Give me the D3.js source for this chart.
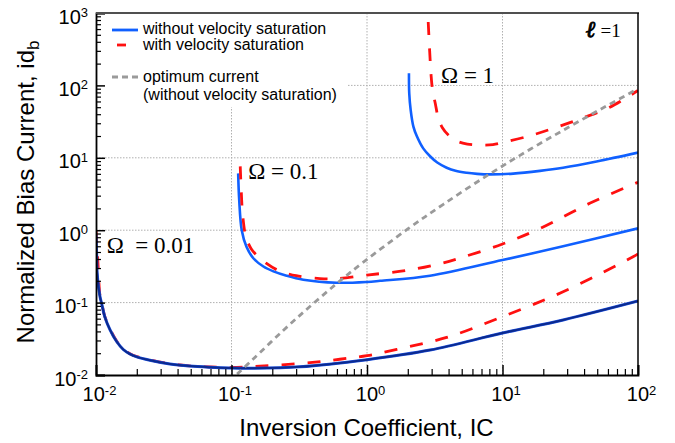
<!DOCTYPE html>
<html>
<head>
<meta charset="utf-8">
<script src="https://cdn.jsdelivr.net/npm/d3@7"></script>
<style>
  body { margin: 0; background: #fff; }
  svg { display: block; font-family: Arial, "Liberation Sans", sans-serif; }
</style>
</head>
<body>
<div id="chart"></div>
<script>
// [IC, idb] pairs
const noSat001 = [[0.01, 0.86], [0.0101, 0.5], [0.0102, 0.256], [0.0107, 0.121], [0.011, 0.098], [0.0116, 0.064],
  [0.0127, 0.042], [0.0142, 0.029], [0.0159, 0.0225], [0.0178, 0.0195], [0.02, 0.0178], [0.025, 0.016],
  [0.0351, 0.0142], [0.049, 0.0133], [0.0694, 0.0128], [0.097, 0.0125], [0.137, 0.0124], [0.32, 0.013],
  [1.0, 0.0163], [2.92, 0.0221], [10, 0.038], [28, 0.0575], [100, 0.105]];
const withSat001 = [[0.01, 1.0], [0.0103, 0.4], [0.0107, 0.125], [0.011, 0.1], [0.0116, 0.065], [0.0127, 0.043],
  [0.0142, 0.0295], [0.0159, 0.0228], [0.0178, 0.0197], [0.02, 0.018], [0.025, 0.0162], [0.035, 0.0143],
  [0.049, 0.0134], [0.07, 0.0129], [0.1, 0.0127], [0.137, 0.013], [0.379, 0.0148], [0.63, 0.0165],
  [1.0, 0.0185], [1.66, 0.0226], [3.87, 0.033], [10, 0.064], [28, 0.141], [92, 0.43], [100, 0.47]];
const noSat01 = [[0.112, 6.1], [0.114, 2.6], [0.119, 1.0], [0.129, 0.59], [0.145, 0.41], [0.172, 0.315],
  [0.204, 0.27], [0.255, 0.235], [0.339, 0.207], [0.597, 0.188], [1.0, 0.193], [1.25, 0.2],
  [2.92, 0.235], [10, 0.387], [28, 0.6], [100, 1.06]];
const withSat01 = [[0.116, 7.6], [0.118, 3.5], [0.121, 1.6], [0.128, 0.8], [0.14, 0.55], [0.152, 0.46],
  [0.18, 0.35], [0.22, 0.28], [0.3, 0.235], [0.45, 0.215], [0.6, 0.215], [1.0, 0.24], [2.0, 0.28],
  [3.46, 0.345], [5, 0.42], [10, 0.644], [19, 1.06], [44, 2.35], [100, 4.6]];
const noSat1 = [[2.04, 147], [2.05, 78], [2.1, 46], [2.2, 27], [2.33, 20], [2.6, 13.5], [2.92, 10.5],
  [3.3, 8.6], [3.87, 7.3], [4.5, 6.6], [5.45, 6.2], [6.5, 6.0], [8.1, 5.9], [12, 6.05], [18.9, 6.6],
  [28, 7.3], [49.5, 8.9], [100, 11.8]];
const withSat1 = [[2.83, 750], [2.9, 300], [2.97, 140], [3.05, 85], [3.2, 55], [3.35, 36], [3.6, 26],
  [4.0, 20.5], [4.6, 17], [5.5, 15.5], [7, 15], [8.5, 15.2], [10, 16.2], [16, 20.2], [25, 26.4],
  [40, 36], [62, 50], [100, 85]];
const optimum = [[0.11, 0.0103], [0.144, 0.0165], [0.241, 0.0413], [0.379, 0.0883], [0.61, 0.189],
  [0.94, 0.362], [2, 1.04], [3.66, 2.28], [8.1, 6.03], [16, 13.1], [30, 25.8], [55, 48.7], [100, 90]];

const xMajor = [1e-2, 1e-1, 1e0, 1e1, 1e2];
const yMajor = [1e-2, 1e-1, 1e0, 1e1, 1e2, 1e3];
const legendLabels = ["without velocity saturation", "with velocity saturation",
  "optimum current", "(without velocity saturation)"];
const omegaLabels = [
  { text: "Ω\u00a0\u00a0=\u00a00.01", ic: 0.012, id: 0.48 },
  { text: "Ω\u00a0=\u00a00.1", ic: 0.133, id: 5.1 },
  { text: "Ω\u00a0=\u00a01", ic: 3.52, id: 108 }
];

const width = 675, height = 443;
const box = { left: 96, right: 638, top: 13, bottom: 375 };

const svg = d3.select("#chart").append("svg")
  .attr("width", width).attr("height", height);

const x = d3.scaleLog().domain([1e-2, 1e2]).range([box.left, box.right]);
const y = d3.scaleLog().domain([1e-2, 1e3]).range([box.bottom, box.top]);

const minor = (majors) => {
  const out = [];
  for (let i = 0; i < majors.length - 1; i++)
    for (let k = 2; k <= 9; k++) out.push(majors[i] * k);
  return out;
};

// grid
svg.append("g").selectAll("line")
  .data(xMajor.slice(1, -1))
  .join("line")
  .attr("x1", d => x(d)).attr("x2", d => x(d))
  .attr("y1", box.top).attr("y2", box.bottom)
  .attr("stroke", "#b0b0b0").attr("stroke-dasharray", "1.5,1.5");
svg.append("g").selectAll("line")
  .data(yMajor.slice(1, -1))
  .join("line")
  .attr("x1", box.left).attr("x2", box.right)
  .attr("y1", d => y(d)).attr("y2", d => y(d))
  .attr("stroke", "#b0b0b0").attr("stroke-dasharray", "1.5,1.5");

// legend background hides the grid behind it
svg.append("rect")
  .attr("x", box.left + 1).attr("y", box.top + 1).attr("width", 250).attr("height", 93)
  .attr("fill", "#fff");

// curves
svg.append("clipPath").attr("id", "plot")
  .append("rect").attr("x", box.left).attr("y", box.top)
  .attr("width", box.right - box.left).attr("height", box.bottom - box.top);

const line = d3.line()
  .x(d => x(d[0]))
  .y(d => y(d[1]))
  .curve(d3.curveCatmullRom.alpha(0.5));

const curves = svg.append("g").attr("clip-path", "url(#plot)").attr("fill", "none");

const series = [
  { data: noSat01, color: "#1060ff", dash: null, w: 2.6 },
  { data: noSat1, color: "#1060ff", dash: null, w: 2.6 },
  { data: withSat001, color: "#ff1010", dash: "13,13", w: 2.8 },
  { data: withSat01, color: "#ff1010", dash: "13,13", w: 2.8 },
  { data: withSat1, color: "#ff1010", dash: "13,13", w: 2.8 },
  { data: noSat001, color: "#1f52e0", dash: null, w: 3 },
  { data: noSat001, color: "#0b2a8e", dash: null, w: 2 },
  { data: optimum, color: "#9a9a9a", dash: "6,4.5", w: 2.8 }
];

curves.selectAll("path")
  .data(series)
  .join("path")
  .attr("d", d => line(d.data))
  .attr("stroke", d => d.color)
  .attr("stroke-width", d => d.w)
  .attr("stroke-dasharray", d => d.dash);

// axes
const powLabel = (sel) => sel.each(function (d) {
  const t = d3.select(this).text(null);
  t.append("tspan").text("10");
  t.append("tspan").attr("dy", "-0.5em").attr("font-size", 13).text(Math.round(Math.log10(d)));
});

const xAxisMinor = d3.axisBottom(x).tickValues(minor(xMajor)).tickSize(-6).tickFormat("");
const xAxisMajor = d3.axisBottom(x).tickValues(xMajor).tickSize(-10).tickPadding(12);
const yAxisMinor = d3.axisLeft(y).tickValues(minor(yMajor)).tickSize(-5).tickFormat("");
const yAxisMajor = d3.axisLeft(y).tickValues(yMajor).tickSize(-9).tickPadding(8);

svg.append("g").attr("transform", `translate(0,${box.bottom})`).call(xAxisMinor)
  .call(g => g.select(".domain").remove())
  .selectAll("line").attr("stroke-width", 1.2);
const gx = svg.append("g").attr("transform", `translate(0,${box.bottom})`).call(xAxisMajor);
gx.select(".domain").attr("stroke-width", 1.8);
gx.selectAll("line").attr("stroke-width", 1.5);
gx.selectAll(".tick text").attr("font-size", 20).attr("dy", "0.7em").attr("dx", 3)
  .attr("font-family", "Arial, 'Liberation Sans', sans-serif").call(powLabel);

svg.append("g").attr("transform", `translate(${box.left},0)`).call(yAxisMinor)
  .call(g => g.select(".domain").remove())
  .selectAll("line").attr("stroke-width", 1.2);
const gy = svg.append("g").attr("transform", `translate(${box.left},0)`).call(yAxisMajor);
gy.select(".domain").attr("stroke-width", 1.8);
gy.selectAll("line").attr("stroke-width", 1.5);
gy.selectAll(".tick text").attr("font-size", 20).attr("dy", "0.5em")
  .attr("font-family", "Arial, 'Liberation Sans', sans-serif").call(powLabel);

// top and right frame
svg.append("line").attr("x1", box.left).attr("x2", box.right + 1).attr("y1", box.top).attr("y2", box.top)
  .attr("stroke", "#505050").attr("stroke-width", 2);
svg.append("line").attr("x1", box.right).attr("x2", box.right).attr("y1", box.top).attr("y2", box.bottom)
  .attr("stroke", "#000").attr("stroke-width", 1.5);

// legend
const lg = svg.append("g").attr("font-size", 16);
lg.append("line").attr("x1", 112).attr("x2", 138).attr("y1", 30).attr("y2", 30)
  .attr("stroke", "#1060ff").attr("stroke-width", 2.8);
lg.append("line").attr("x1", 117).attr("x2", 126).attr("y1", 45).attr("y2", 45)
  .attr("stroke", "#ff1010").attr("stroke-width", 2.8);
lg.append("line").attr("x1", 112).attr("x2", 138).attr("y1", 77).attr("y2", 77)
  .attr("stroke", "#9a9a9a").attr("stroke-width", 2.8).attr("stroke-dasharray", "6,4");
lg.selectAll("text")
  .data(legendLabels)
  .join("text")
  .attr("x", 143)
  .attr("y", (d, i) => [34, 50, 82, 100][i])
  .text(d => d);

// Omega labels with white backing
const ann = svg.append("g")
  .attr("font-family", "'Liberation Serif', 'Times New Roman', serif")
  .attr("font-size", 23);
omegaLabels.forEach(o => {
  const t = ann.append("text").attr("x", x(o.ic)).attr("y", y(o.id)).text(o.text);
  const b = t.node().getBBox();
  ann.insert("rect", "text")
    .attr("x", b.x - 1).attr("y", b.y + 3).attr("width", b.width + 2).attr("height", b.height - 6)
    .attr("fill", "#fff");
});

const ell = svg.append("text").attr("x", 586).attr("y", 37).attr("font-size", 19)
  .attr("font-family", "'Liberation Serif', 'Times New Roman', serif");
ell.append("tspan").attr("font-family", "'DejaVu Serif', serif").attr("font-weight", "bold")
  .attr("font-style", "italic").attr("font-size", 23)
  .attr("stroke", "#000").attr("stroke-width", 0.9).text("ℓ");
ell.append("tspan").text("\u00a0=1");

// axis titles
svg.append("text")
  .attr("x", (box.left + box.right) / 2 - 0.5).attr("y", 436)
  .attr("text-anchor", "middle").attr("font-size", 24)
  .text("Inversion Coefficient, IC");

const yt = svg.append("text")
  .attr("transform", "translate(34,192) rotate(-90)")
  .attr("text-anchor", "middle").attr("font-size", 24);
yt.append("tspan").text("Normalized Bias Current, id");
yt.append("tspan").attr("font-size", 17).attr("dy", "0.3em").text("b");
</script>
</body>
</html>
